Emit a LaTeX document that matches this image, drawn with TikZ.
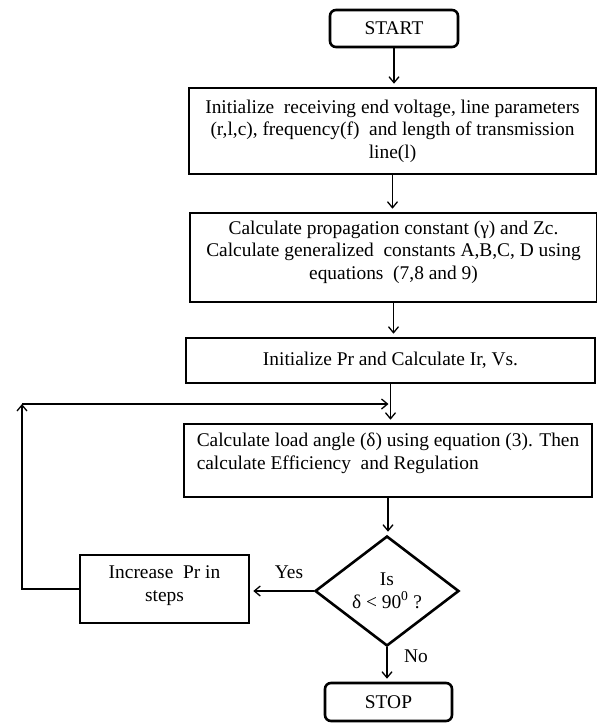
\documentclass[tikz,border=0pt]{standalone}
\usepackage{fontspec}
\setmainfont{Liberation Serif}
\usetikzlibrary{shapes.geometric,arrows.meta}

\begin{document}
\begin{tikzpicture}[x=1pt, y=-1pt, > = {Straight Barb[length=6pt,width=10pt]}, shorten > = 3pt, font=\fontsize{19.4}{22.5}\selectfont]
                \tikzstyle{bloco}=[rectangle, draw, line width=2.6pt, align=center, inner sep=0pt]
                \tikzstyle{terminal}=[bloco, rounded corners=6pt]
                \tikzstyle{teste}=[diamond, draw, line width=2.6pt, align=center, inner sep=0pt]
                \tikzstyle{seta}=[->, line width=1.3pt]

                    \useasboundingbox (0,0) rectangle (597,724);

                    % Blocos
                    \node[terminal, minimum width=128pt, minimum height=37pt] (start) at (394,28.5) {START};
                    \node[bloco, minimum width=407pt, minimum height=86pt] (init) at (392.5,131) {Initialize\ \ receiving end voltage, line parameters\\(r,l,c), frequency(f)\ \ and length of transmission\\line(l)};
                    \node[bloco, minimum width=407pt, minimum height=89pt] (calc) at (393.5,257.5) {Calculate propagation constant (γ) and Zc.\\Calculate generalized\ \ constants A,B,C, D using\\equations\ \ (7,8 and 9)\\[-8pt]\mbox{}};
                    \node[bloco, minimum width=409pt, minimum height=45pt] (initpr) at (390.5,360.5) {Initialize Pr and Calculate Ir, Vs.};
                    \node[bloco, align=left, minimum width=408pt, minimum height=73pt] (load) at (388,460.5) {Calculate load angle (δ) using equation (3). Then\\calculate Efficiency\ \ and Regulation\\[-4pt]\mbox{}};
                    \node[teste, minimum width=144pt, minimum height=110pt] (dec) at (387,591) {Is\\δ < 90\textsuperscript{0} ?};
                    \node[bloco, minimum width=169pt, minimum height=68pt] (inc) at (164.5,589) {Increase\ \ Pr in\\steps\\[-12pt]\mbox{}};
                    \node[terminal, minimum width=127pt, minimum height=38pt] (stop) at (388.5,702) {STOP};

                    \coordinate (canto) at (22,404);
                    \coordinate (junta) at (initpr.south |- canto);

                    % Setas
                    \draw[seta] (start) -- (start |- init.north);
                    \draw[seta] (init) -- (init |- calc.north);
                    \draw[seta] (calc) -- (calc |- initpr.north);
                    \draw[seta] (initpr) -- (initpr |- load.north);
                    \draw[seta] (load) -- (load |- dec.north);
                    \draw[seta] (dec) -- (dec -| inc.east);
                    \draw[seta] (dec) -- (dec |- stop.north);
                    \draw[seta, shorten > = 0pt] (inc) -| (canto);
                    \draw[seta, shorten > = 2pt] (canto) -- (junta);

                    % Rótulos
                    \node (sim) at (289,572) {Yes};
                    \node (nao) at (416,656) {No};
            \end{tikzpicture}
\end{document}
